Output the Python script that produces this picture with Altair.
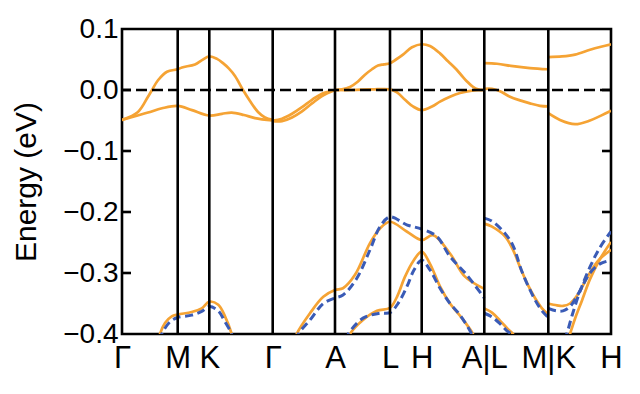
import altair as alt
import pandas as pd

# High-symmetry path positions (arbitrary k-distance units) and labels
kpt_pos = [0, 55.7, 87.3, 150.7, 213, 268, 299.7, 362.3, 426.3, 489]
kpt_labels = ["Γ", "M", "K", "Γ", "A", "L", "H", "A|L", "M|K", "H"]
y_ticks = [-0.4, -0.3, -0.2, -0.1, 0.0, 0.1]

# ---- orange (solid) bands: [k, energy] ----
o1 = [[0, -0.049], [16, -0.036], [26, -0.011], [30, 0.0], [36, 0.016], [45, 0.030], [55.7, 0.034],
      [60, 0.037], [73, 0.042], [80, 0.049], [87.3, 0.055], [95, 0.051], [101, 0.044], [107, 0.035],
      [113, 0.023], [121, 0.0], [128, -0.018], [136, -0.036], [143, -0.045], [150.7, -0.049]]
o2 = [[0, -0.049], [13, -0.043], [26, -0.037], [40, -0.030], [55.7, -0.026], [70, -0.033],
      [87.3, -0.042], [100, -0.039], [109.7, -0.037], [122, -0.041], [133, -0.046], [150.7, -0.050]]
o3 = [[150.7, -0.050], [160, -0.047], [170, -0.039], [180, -0.028], [190, -0.016], [200, -0.006], [213, 0.0]]
o4 = [[150.7, -0.051], [160, -0.051], [170, -0.045], [180, -0.035], [190, -0.022], [200, -0.010], [213, 0.0]]
o5 = [[213, 0.0], [220, 0.001], [228, 0.005], [236, 0.014], [243, 0.025], [250, 0.034], [256, 0.040],
      [262, 0.042], [268, 0.044], [274, 0.050], [281, 0.058], [290, 0.070], [299.7, 0.075], [308, 0.072],
      [318, 0.060], [326, 0.047], [333, 0.036], [339, 0.025], [345, 0.014], [351, 0.005], [356, 0.001],
      [362.3, 0.0]]
o6 = [[213, 0.0], [230, 0.0], [250, 0.001], [268, 0.001], [275, -0.004], [283, -0.016], [291, -0.027],
      [299.7, -0.033], [310, -0.027], [318, -0.019], [328, -0.011], [338, -0.005], [350, -0.001], [362.3, 0.0]]
o7 = [[362.3, 0.044], [375, 0.043], [391, 0.039], [408, 0.036], [426.3, 0.034]]
o8 = [[362.3, 0.002], [370, 0.002], [378, -0.002], [388, -0.011], [398, -0.017], [408, -0.022],
      [418, -0.026], [426.3, -0.027]]
o9 = [[426.3, 0.054], [440, 0.055], [453, 0.058], [468, 0.066], [479, 0.071], [489, 0.075]]
o10 = [[426.3, -0.038], [438, -0.049], [453, -0.056], [468, -0.050], [479, -0.042], [489, -0.034]]
o11 = [[37, -0.41], [38, -0.4], [43, -0.382], [49.7, -0.371], [55.7, -0.368], [69.7, -0.364],
       [79.7, -0.358], [87.3, -0.347], [96.3, -0.352], [103, -0.371], [109.7, -0.4], [111, -0.41]]
o12 = [[173, -0.41], [174.7, -0.4], [188, -0.366], [201.3, -0.339], [213, -0.328], [221, -0.325],
       [233, -0.303], [248, -0.251], [258, -0.227], [268, -0.216], [284.7, -0.232], [299.7, -0.246],
       [311, -0.238], [328, -0.268], [343, -0.306], [362.3, -0.326]]
o13 = [[226, -0.41], [228, -0.4], [241, -0.377], [255, -0.362], [268, -0.357], [275, -0.339],
       [283, -0.306], [291, -0.281], [299.7, -0.265], [308, -0.285], [318, -0.322], [328, -0.350],
       [338, -0.370], [351, -0.4], [353, -0.41]]
o14 = [[362.3, -0.219], [370, -0.224], [383, -0.240], [391, -0.262], [398, -0.290], [406, -0.320],
       [413, -0.341], [420, -0.358], [426.3, -0.368]]
o15 = [[362.3, -0.358], [370, -0.365], [378, -0.378], [386, -0.392], [391, -0.4], [393, -0.41]]
o16 = [[426.3, -0.350], [435, -0.353], [441, -0.354], [448, -0.350], [456, -0.335], [466, -0.305],
       [476, -0.280], [489, -0.262]]
o17 = [[446, -0.41], [448, -0.4], [453, -0.375], [460, -0.345], [468, -0.310], [478, -0.277], [489, -0.249]]

# ---- blue (dashed) bands: [k, energy] ----
b1 = [[38, -0.41], [39.7, -0.4], [48, -0.380], [55.7, -0.373], [69.7, -0.369], [79.7, -0.363],
      [87.3, -0.355], [96.3, -0.362], [103, -0.380], [109.7, -0.4], [111, -0.41]]
b2 = [[174, -0.41], [176.3, -0.4], [188, -0.377], [201.3, -0.350], [213, -0.341], [221, -0.336],
      [234.7, -0.309], [248, -0.262], [258, -0.224], [268, -0.208], [284.7, -0.221], [299.7, -0.228],
      [314.7, -0.240], [328, -0.273], [344.7, -0.303], [362.3, -0.341]]
b3 = [[224, -0.41], [226.3, -0.4], [241, -0.374], [258, -0.366], [268, -0.365], [276, -0.350],
      [285, -0.322], [292, -0.295], [299.7, -0.279], [308, -0.295], [318, -0.325], [328, -0.350],
      [338, -0.369], [349.7, -0.4], [352, -0.41]]
b4 = [[362.3, -0.210], [370, -0.215], [383, -0.235], [391, -0.255], [400, -0.298], [413, -0.344],
      [420, -0.362], [426.3, -0.373]]
b5 = [[362.3, -0.366], [370, -0.372], [378, -0.383], [385, -0.395], [389, -0.4], [391, -0.41]]
b6 = [[426.3, -0.358], [434, -0.362], [441, -0.362], [448, -0.355], [456, -0.335], [468, -0.300],
      [478, -0.285], [489, -0.279]]
b7 = [[442, -0.41], [444.7, -0.4], [450, -0.370], [458, -0.330], [468, -0.290], [478, -0.258], [489, -0.232]]

orange_bands = {"o1": o1, "o2": o2, "o3": o3, "o4": o4, "o5": o5, "o6": o6, "o7": o7, "o8": o8,
                "o9": o9, "o10": o10, "o11": o11, "o12": o12, "o13": o13, "o14": o14, "o15": o15,
                "o16": o16, "o17": o17}
blue_bands = {"b1": b1, "b2": b2, "b3": b3, "b4": b4, "b5": b5, "b6": b6, "b7": b7}


def to_df(bands):
    rows = []
    for name, pts in bands.items():
        for k, e in pts:
            rows.append({"band": name, "k": k, "E": e})
    return pd.DataFrame(rows)


df_orange = to_df(orange_bands)
df_blue = to_df(blue_bands)
df_vlines = pd.DataFrame({"k": kpt_pos[1:-1]})
df_zero = pd.DataFrame({"E": [0.0]})
df_yticks = pd.DataFrame({"E": y_ticks[1:-1]})

ORANGE = "#F5A334"
BLUE = "#3A5BB6"
FONT = "Liberation Sans"

# label expression for the k-path axis
expr = "''"
for pos, lab in reversed(list(zip(kpt_pos, kpt_labels))):
    expr = f"datum.value < {pos + 0.5} ? '{lab}' : ({expr})"

x_scale = alt.Scale(domain=[kpt_pos[0], kpt_pos[-1]], nice=False, zero=False)
y_scale = alt.Scale(domain=[-0.4, 0.1], nice=False, zero=False)

x_axis = alt.Axis(values=kpt_pos, labelExpr=expr, ticks=False, domain=False, grid=False,
                  labelFontSize=31, labelFont=FONT, labelColor="black", labelPadding=9,
                  labelFlush=False, labelOverlap=False, title=None)
y_axis = alt.Axis(values=y_ticks, format=".1f", ticks=False, domain=False, grid=False,
                  labelFontSize=28, labelFont=FONT, labelColor="black", labelPadding=4,
                  labelOverlap=False,
                  title="Energy (eV)", titleFontSize=30, titleFont=FONT, titleFontWeight="normal",
                  titleColor="black", titleX=-87, titleY=152.5, titleAngle=270,
                  titleAlign="center", titleBaseline="alphabetic")

X = alt.X("k:Q", scale=x_scale, axis=x_axis)
Y = alt.Y("E:Q", scale=y_scale, axis=y_axis)

orange = alt.Chart(df_orange).mark_line(
    interpolate="catmull-rom", clip=True, color=ORANGE, strokeWidth=2.7
).encode(x=X, y=Y, detail="band:N")

blue = alt.Chart(df_blue).mark_line(
    interpolate="catmull-rom", clip=True, color=BLUE, strokeWidth=3.0, strokeDash=[8, 4.5]
).encode(x=X, y=Y, detail="band:N")

vlines = alt.Chart(df_vlines).mark_rule(color="black", strokeWidth=2.6).encode(x=X)

zero = alt.Chart(df_zero).mark_rule(color="black", strokeWidth=2.6, strokeDash=[11, 5]).encode(y=Y)

ticks_left = alt.Chart(df_yticks).mark_rule(color="black", strokeWidth=2.6).encode(
    y=Y, x=alt.value(0), x2=alt.value(9))
ticks_right = alt.Chart(df_yticks).mark_rule(color="black", strokeWidth=2.6).encode(
    y=Y, x=alt.value(480), x2=alt.value(489))

chart = alt.layer(orange, blue, vlines, zero, ticks_left, ticks_right).properties(
    width=489, height=305,
    autosize=alt.AutoSizeParams(type="none"),
    padding={"left": 114, "top": 21, "right": 21, "bottom": 52},
    background="white",
).configure_view(stroke="black", strokeWidth=2.6)

chart.save("out.html", embed_options={"renderer": "svg", "actions": False})
